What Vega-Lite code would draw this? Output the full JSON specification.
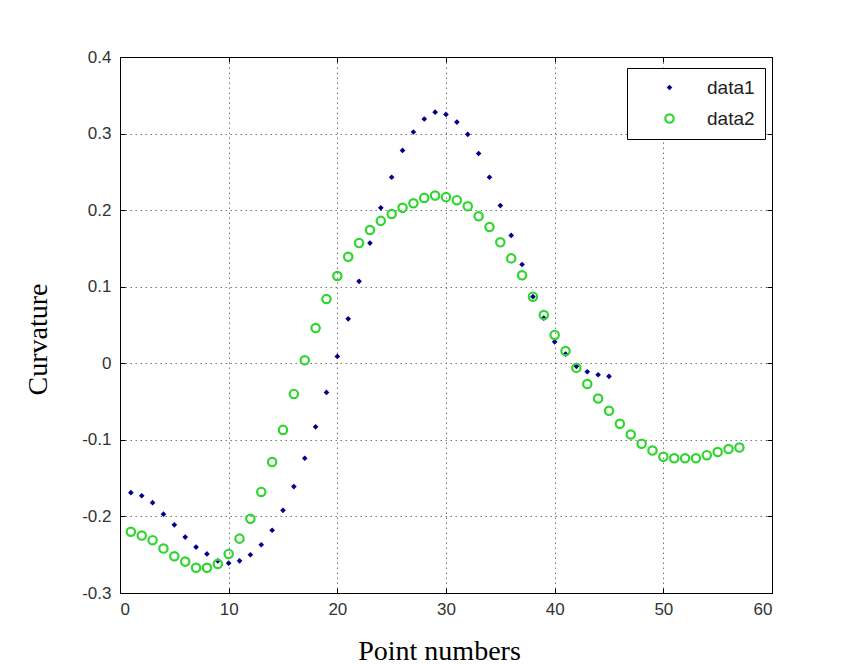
{
  "$schema": "https://vega.github.io/schema/vega-lite/v6.json",
  "width": 652,
  "height": 536,
  "autosize": {"type": "none"},
  "padding": {"left": 120, "top": 57, "right": 69, "bottom": 71},
  "background": "white",
  "config": {
    "view": {"stroke": "black", "strokeWidth": 1},
    "axis": {
      "domainColor": "black",
      "tickColor": "black",
      "tickSize": -5,
      "labelFont": "Liberation Sans",
      "labelFontSize": 17,
      "labelColor": "#333333",
      "titleFont": "Liberation Serif",
      "titleFontSize": 28,
      "titleFontWeight": "normal",
      "titleColor": "black",
      "gridColor": "#777777",
      "gridDash": [1.5, 3.5],
      "gridOpacity": 1,
      "gridWidth": 1
    }
  },
  "data": {
    "values": [
      {"point": 1, "series": "data1", "curvature": -0.169},
      {"point": 2, "series": "data1", "curvature": -0.173},
      {"point": 3, "series": "data1", "curvature": -0.182},
      {"point": 4, "series": "data1", "curvature": -0.197},
      {"point": 5, "series": "data1", "curvature": -0.211},
      {"point": 6, "series": "data1", "curvature": -0.227},
      {"point": 7, "series": "data1", "curvature": -0.240},
      {"point": 8, "series": "data1", "curvature": -0.249},
      {"point": 9, "series": "data1", "curvature": -0.258},
      {"point": 10, "series": "data1", "curvature": -0.261},
      {"point": 11, "series": "data1", "curvature": -0.258},
      {"point": 12, "series": "data1", "curvature": -0.250},
      {"point": 13, "series": "data1", "curvature": -0.237},
      {"point": 14, "series": "data1", "curvature": -0.218},
      {"point": 15, "series": "data1", "curvature": -0.192},
      {"point": 16, "series": "data1", "curvature": -0.161},
      {"point": 17, "series": "data1", "curvature": -0.124},
      {"point": 18, "series": "data1", "curvature": -0.083},
      {"point": 19, "series": "data1", "curvature": -0.038},
      {"point": 20, "series": "data1", "curvature": 0.009},
      {"point": 21, "series": "data1", "curvature": 0.058},
      {"point": 22, "series": "data1", "curvature": 0.107},
      {"point": 23, "series": "data1", "curvature": 0.157},
      {"point": 24, "series": "data1", "curvature": 0.203},
      {"point": 25, "series": "data1", "curvature": 0.243},
      {"point": 26, "series": "data1", "curvature": 0.278},
      {"point": 27, "series": "data1", "curvature": 0.302},
      {"point": 28, "series": "data1", "curvature": 0.319},
      {"point": 29, "series": "data1", "curvature": 0.328},
      {"point": 30, "series": "data1", "curvature": 0.325},
      {"point": 31, "series": "data1", "curvature": 0.315},
      {"point": 32, "series": "data1", "curvature": 0.299},
      {"point": 33, "series": "data1", "curvature": 0.274},
      {"point": 34, "series": "data1", "curvature": 0.243},
      {"point": 35, "series": "data1", "curvature": 0.206},
      {"point": 36, "series": "data1", "curvature": 0.167},
      {"point": 37, "series": "data1", "curvature": 0.129},
      {"point": 38, "series": "data1", "curvature": 0.087},
      {"point": 39, "series": "data1", "curvature": 0.059},
      {"point": 40, "series": "data1", "curvature": 0.028},
      {"point": 41, "series": "data1", "curvature": 0.012},
      {"point": 42, "series": "data1", "curvature": -0.004},
      {"point": 43, "series": "data1", "curvature": -0.011},
      {"point": 44, "series": "data1", "curvature": -0.015},
      {"point": 45, "series": "data1", "curvature": -0.017},
      {"point": 1, "series": "data2", "curvature": -0.220},
      {"point": 2, "series": "data2", "curvature": -0.225},
      {"point": 3, "series": "data2", "curvature": -0.231},
      {"point": 4, "series": "data2", "curvature": -0.242},
      {"point": 5, "series": "data2", "curvature": -0.252},
      {"point": 6, "series": "data2", "curvature": -0.259},
      {"point": 7, "series": "data2", "curvature": -0.267},
      {"point": 8, "series": "data2", "curvature": -0.267},
      {"point": 9, "series": "data2", "curvature": -0.262},
      {"point": 10, "series": "data2", "curvature": -0.249},
      {"point": 11, "series": "data2", "curvature": -0.229},
      {"point": 12, "series": "data2", "curvature": -0.203},
      {"point": 13, "series": "data2", "curvature": -0.168},
      {"point": 14, "series": "data2", "curvature": -0.129},
      {"point": 15, "series": "data2", "curvature": -0.087},
      {"point": 16, "series": "data2", "curvature": -0.040},
      {"point": 17, "series": "data2", "curvature": 0.004},
      {"point": 18, "series": "data2", "curvature": 0.046},
      {"point": 19, "series": "data2", "curvature": 0.084},
      {"point": 20, "series": "data2", "curvature": 0.114},
      {"point": 21, "series": "data2", "curvature": 0.139},
      {"point": 22, "series": "data2", "curvature": 0.157},
      {"point": 23, "series": "data2", "curvature": 0.174},
      {"point": 24, "series": "data2", "curvature": 0.186},
      {"point": 25, "series": "data2", "curvature": 0.195},
      {"point": 26, "series": "data2", "curvature": 0.203},
      {"point": 27, "series": "data2", "curvature": 0.209},
      {"point": 28, "series": "data2", "curvature": 0.216},
      {"point": 29, "series": "data2", "curvature": 0.219},
      {"point": 30, "series": "data2", "curvature": 0.217},
      {"point": 31, "series": "data2", "curvature": 0.213},
      {"point": 32, "series": "data2", "curvature": 0.205},
      {"point": 33, "series": "data2", "curvature": 0.192},
      {"point": 34, "series": "data2", "curvature": 0.178},
      {"point": 35, "series": "data2", "curvature": 0.158},
      {"point": 36, "series": "data2", "curvature": 0.137},
      {"point": 37, "series": "data2", "curvature": 0.115},
      {"point": 38, "series": "data2", "curvature": 0.087},
      {"point": 39, "series": "data2", "curvature": 0.063},
      {"point": 40, "series": "data2", "curvature": 0.037},
      {"point": 41, "series": "data2", "curvature": 0.016},
      {"point": 42, "series": "data2", "curvature": -0.006},
      {"point": 43, "series": "data2", "curvature": -0.027},
      {"point": 44, "series": "data2", "curvature": -0.046},
      {"point": 45, "series": "data2", "curvature": -0.062},
      {"point": 46, "series": "data2", "curvature": -0.079},
      {"point": 47, "series": "data2", "curvature": -0.093},
      {"point": 48, "series": "data2", "curvature": -0.105},
      {"point": 49, "series": "data2", "curvature": -0.114},
      {"point": 50, "series": "data2", "curvature": -0.122},
      {"point": 51, "series": "data2", "curvature": -0.124},
      {"point": 52, "series": "data2", "curvature": -0.124},
      {"point": 53, "series": "data2", "curvature": -0.124},
      {"point": 54, "series": "data2", "curvature": -0.120},
      {"point": 55, "series": "data2", "curvature": -0.116},
      {"point": 56, "series": "data2", "curvature": -0.112},
      {"point": 57, "series": "data2", "curvature": -0.110}
    ]
  },
  "layer": [
    {
      "mark": {"type": "point", "opacity": 1},
      "encoding": {
        "x": {
          "field": "point", "type": "quantitative",
          "scale": {"domain": [0, 60], "nice": false, "zero": false},
          "axis": {"orient": "bottom", "values": [0, 10, 20, 30, 40, 50, 60], "grid": true, "title": "Point numbers", "labelPadding": 13, "titlePadding": 20, "titleX": 319}
        },
        "y": {
          "field": "curvature", "type": "quantitative",
          "scale": {"domain": [-0.3, 0.4], "nice": false, "zero": false},
          "axis": {"orient": "left", "values": [-0.3, -0.2, -0.1, 0, 0.1, 0.2, 0.3, 0.4], "grid": true, "title": "Curvature", "labelPadding": 14, "titlePadding": 29, "titleY": 282,
                   "labelExpr": "replace(format(datum.value, '.1~f'), '\u2212', '-')"}
        },
        "shape": {
          "field": "series", "type": "nominal",
          "scale": {"domain": ["data1", "data2"], "range": ["diamond", "circle"]},
          "legend": {
            "title": null, "orient": "none", "legendX": 507, "legendY": 11,
            "strokeColor": "black", "fillColor": "white", "padding": 10,
            "symbolOffset": 23, "labelOffset": 28, "rowPadding": 11,
            "labelFont": "Liberation Sans", "labelFontSize": 19, "labelColor": "#222222"
          }
        },
        "fill": {
          "field": "series", "type": "nominal",
          "scale": {"domain": ["data1", "data2"], "range": ["#00008b", "transparent"]}
        },
        "stroke": {
          "field": "series", "type": "nominal",
          "scale": {"domain": ["data1", "data2"], "range": ["#00008b", "#2fd62f"]}
        },
        "strokeWidth": {
          "field": "series", "type": "nominal",
          "scale": {"domain": ["data1", "data2"], "range": [0, 2.2]}
        },
        "size": {
          "field": "series", "type": "nominal",
          "scale": {"domain": ["data1", "data2"], "range": [32, 70]}
        }
      }
    },
    {
      "mark": {"type": "point", "opacity": 0},
      "encoding": {
        "x": {
          "field": "point", "type": "quantitative",
          "axis": {"orient": "top", "values": [0, 10, 20, 30, 40, 50, 60], "labels": false, "grid": false, "title": null}
        },
        "y": {
          "field": "curvature", "type": "quantitative",
          "axis": {"orient": "right", "values": [-0.3, -0.2, -0.1, 0, 0.1, 0.2, 0.3, 0.4], "labels": false, "grid": false, "title": null}
        }
      }
    }
  ],
  "resolve": {"axis": {"x": "independent", "y": "independent"}}
}
